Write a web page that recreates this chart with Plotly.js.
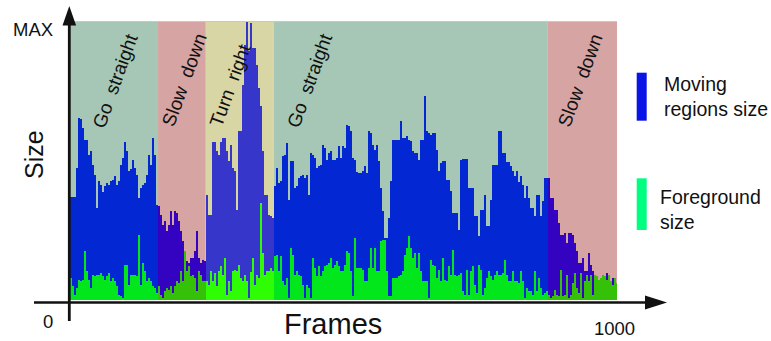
<!DOCTYPE html>
<html><head><meta charset="utf-8">
<script src="https://cdn.plot.ly/plotly-3.0.1.min.js"></script>
<style>html,body{margin:0;padding:0;background:#fff;}#chart{width:771px;height:341px;}</style>
</head><body><div id="chart"></div>
<script>
// ---- data (percent of MAX), one bin per ~3.64 frames ----
const movingRegionsSize = [
37,37,37,37,47.5, 65.5,65,62,57.7,57.7, 52,53.5,48.7,45,33, 42.7,41.5,39,41,42,
41.5,42.7,43,44.5,41.5, 42.7,48.7,51,57,53.5, 46.3,47,50.5,47.5,45, 36.7,40.3,41.5,42,45,
52,48.7,58.3,52,34.3, 33.7,30.7,27,28.3,24.7, 27,31.9,27,31.9,31.3, 28.3,24.7,21.1,17.5,13.9,
13.3,15.1,15.1,17.5,24.7, 15.1,13.3,14.5,13.9,37.9, 30.7,30.7,57,57,53.5, 52.3,57,58.3,58.3,53.5,
49.9,55.9,47.5,46.3,32.5, 60.7,60.7,77.5,91.8,100, 89.4,99.6,90.6,90.6,84.7, 76.3,69.7,53.5,37.9,37.9,
30.7,30.1,29.5,40.9,47.5, 42.1,42.7,51.7,52.3,56.5, 36.1,49.9,49.9,40.3,40.9, 43.9,44.5,45.1,43.9,45.1,
37.9,52.9,52.3,51.1,47.5, 48.1,48.7,55.9,54.7,50.5, 52.9,53.5,50.5,50.5,51.1, 55.3,51.1,55.3,54.7,63.1,
62.5,60.7,51.1,50.5,46, 45.7,45.7,46.3,48.1,45.7, 60.7,60.1,55.9,54.1,55.9, 49.9,40.3,31.9,22.3,22.3,
29.5,42.7,57.7,57.7,57.7, 57.7,64.3,58.3,58.3,58.9, 57.7,57.1,53.5,52.9,52.9, 50.5,57.7,57.7,73.3,60.7,
60.1,59.5,60.1,60.1,54.1, 46.3,49.3,49.9,49.9,43.3, 43.3,39.1,31.3,31.3,31.3, 25.3,50.5,50.7,50.7,50.7,
40.3,40.3,40.3,30.1,30.1, 22.9,32.5,32.5,37.6,26.5, 26.5,36.1,48.7,48.7,48.7, 60.7,60.7,52.9,52.9,49.6,
49.6,48.1,46.3,44.5,46.3, 42.4,44.5,41.5,36.7,40.9, 36.7,33.1,33.1,30.1,37.9, 37.9,30.1,35.5,43.9,43.9,
43.9,36.7,36.7,32.5,32.5, 27.7,23.5,23.5,24.1,20.5, 24.1,24.1,23.5,20.5,17.5, 13.3,13.3,15.1,10.3,10.3,
16.9,12.7,10.3,7.9,7.3, 5.5,6.7,5.5,7.9,9.7, 9.1,6.1,7.9,5.5,5.5
];
const foregroundSize = [
8,7.9,4.9,1.9,4.3, 7.3,6.7,7.3,17.5,10.3, 7.3,4.3,9.1,8.5,9.1, 9.1,9.7,8.5,7.3,8.5,
9.7,6.7,7.9,6.7,4.9, 1.9,1.3,0.7,12.7,12.7, 5.5,9.1,9.1,9.1,8.5, 23.5,5.5,13.3,10.3,6.7,
7.9,6.7,4.9,4.3,2.5, 4.9,1.9,0.7,3.1,4.3, 3.7,4.9,2.5,4.9,6.7, 6.1,10.3,6.7,17.5,10.3,
12.1,8.5,9.1,7.9,3.1, 10.3,9.1,6.7,6.7,6.7, 5.5,10.3,6.7,9.7,4.9, 10.3,12.1,9.1,15.1,1.9,
6.7,3.1,10.3,10.9,10.3, 12.7,7.9,6.7,9.1,6.7, 0.7,10,15.1,5.5,9.1, 7.9,34.9,16.9,9.1,10.3,
10.3,11.5,10.3,15.7,16.3, 10.3,15.7,6.7,5.5,7.9, 0.7,18.7,16.3,9.1,10.3, 9.1,8.5,5.5,0.7,5.5,
4.3,0.7,15.1,11.5,8.5, 12.1,8.5,10.3,12.1,12.7, 13.3,15.1,11.5,12.7,13.9, 12.1,10.3,10.3,12.7,17.5,
16.9,10.3,1.3,22.3,11.5, 11.5,11.5,10.9,6.7,6.7, 11.5,18.7,11.5,18.7,10.3, 10.3,21.1,21.7,21.7,10.3,
1.3,1.3,7.9,7.9,7.9, 8.5,9.1,10.3,16.3,18.7, 22.9,18.7,15.1,16.9,11.5, 16.9,10.3,6.7,6.7,6.7,
0.7,14.5,12.7,12.1,7.9, 10.9,6.7,15.1,7.3,6.7, 12.1,9.1,18.1,9.1,8.5, 9.1,9.7,3.1,1.9,10.9,
1.9,10.3,12.1,5.5,2.5, 12.7,10.9,1.9,4.3,7.9, 10.3,8.5,7.3,9.1,10.3, 9.1,9.1,9.7,14.5,9.1,
6.7,6.7,10.3,6.7,6.7, 6.1,10.3,6.7,0.7,4.3, 3.1,3.1,1.9,10.3,3.1, 7.9,4.3,1.9,2.5,3.1,
1.9,0.7,1.3,3.7,1.9, 1.3,10.9,1.3,1.9,9.1, 0.7,1.9,6.1,9.7,4.3, 2.5,9.7,0.7,6.7,9.1,
6.7,9.1,1.9,9.1,8.5, 7.3,7.9,9.1,8.5,7.3, 9.1,6.7,5.5,7.9,6.1
];
const regionLabels = ['Go  straight','Slow  down','Turn  right','Go  straight','Slow  down'];
const regionStart = [0, 164, 251, 375, 874];
const regionEnd   = [164, 251, 375, 874, 1000];
const regionKind  = ['straight','slow','turn','straight','slow'];
const xTickLabels = ['0', '1000'];
const yTickLabels = ['MAX'];
const legendLabels = ['Moving<br>regions size', 'Foreground<br>size'];

// ---- styling ----
const FRAMES_MAX = 1000, VMAX = 100;
const PL = 68, PR = 617, PT = 22, PB = 300;
const BIN = 2 * FRAMES_MAX / (PR - PL);
const bgCol = {straight:'#a6c7b6', slow:'#d6a4a2', turn:'#d8d6a5'};
const blueCol = {straight:'#0327d3', slow:'#3403c1', turn:'#3636ca'};
const greenCol = {straight:'#02e61c', slow:'#36c109', turn:'#2efd04'};
const FONT = 'Liberation Sans, Arial, sans-serif';
const INK = '#111111';
const labelPos = [[85.6,79.1],[212.6,79.2],[296.4,77.4],[440.8,78.8],[933.2,78.9]];

const px = x => (x - PL) / (PR - PL);
const py = y => (PB - y) / (PB - PT);

const frames = movingRegionsSize.map((_, i) => (i + 0.5) * BIN);
function regionOf(f) {
  for (let k = 0; k < regionStart.length; k++) if (f >= regionStart[k] && f < regionEnd[k]) return k;
  return regionStart.length - 1;
}
const kinds = frames.map(f => regionKind[regionOf(f)]);

const traces = [
  {type:'bar', x:frames, y:movingRegionsSize, width:BIN,
   marker:{color:kinds.map(k => blueCol[k]), line:{width:0}}, hoverinfo:'skip'},
  {type:'bar', x:frames, y:foregroundSize, width:BIN,
   marker:{color:kinds.map(k => greenCol[k]), line:{width:0}}, hoverinfo:'skip'}
];

const shapes = [];
regionStart.forEach((s, k) => {
  shapes.push({type:'rect', xref:'x', yref:'paper', x0:s, x1:regionEnd[k], y0:0, y1:1,
    fillcolor:bgCol[regionKind[k]], line:{width:0}, layer:'below'});
});
// top border
shapes.push({type:'line', xref:'paper', yref:'paper', x0:0, x1:1, y0:py(21.5), y1:py(21.5),
  line:{color:'#c8c8c8', width:1.2}, layer:'above'});
// axes with arrows
shapes.push({type:'line', xref:'paper', yref:'paper', x0:px(34), x1:px(647), y0:py(302.5), y1:py(302.5),
  line:{color:INK, width:2.6}, layer:'above'});
shapes.push({type:'path', xref:'paper', yref:'paper',
  path:`M ${px(645)} ${py(295.5)} L ${px(667)} ${py(302.5)} L ${px(645)} ${py(309.5)} Z`,
  fillcolor:INK, line:{width:0}, layer:'above'});
shapes.push({type:'line', xref:'paper', yref:'paper', x0:px(69.3), x1:px(69.3), y0:py(321), y1:py(24),
  line:{color:INK, width:2.8}, layer:'above'});
shapes.push({type:'path', xref:'paper', yref:'paper',
  path:`M ${px(62.5)} ${py(25.5)} L ${px(69.3)} ${py(6)} L ${px(76.1)} ${py(25.5)} Z`,
  fillcolor:INK, line:{width:0}, layer:'above'});
// legend swatches
shapes.push({type:'rect', xref:'paper', yref:'paper', x0:px(636.7), x1:px(646.7), y0:py(120.7), y1:py(72.7),
  fillcolor:'#0a14e6', line:{width:0}});
shapes.push({type:'rect', xref:'paper', yref:'paper', x0:px(636.7), x1:px(646.7), y0:py(230), y1:py(178.3),
  fillcolor:'#00ff80', line:{width:0}});

const ann = [];
regionLabels.forEach((t, k) => {
  ann.push({x:labelPos[k][0], y:labelPos[k][1], xref:'x', yref:'y', text:t, showarrow:false,
    textangle:-70, xanchor:'center', yanchor:'middle', font:{family:FONT, size:19, color:INK}});
});
const txt = (text, x, y, size, opts) => Object.assign({text, x:px(x), y:py(y), xref:'paper', yref:'paper',
  showarrow:false, xanchor:'center', yanchor:'middle', borderpad:0, font:{family:FONT, size, color:INK}}, opts || {});
ann.push(txt(yTickLabels[0], 54, 29.5, 18.5, {xanchor:'right'}));
ann.push(txt(xTickLabels[0], 47.5, 321, 18.5));
ann.push(txt(xTickLabels[1], 614.7, 328.5, 18.5));
ann.push(txt('Frames', 333, 323.5, 29));
ann.push(txt('Size', 34, 155, 25, {textangle:-90}));
ann.push(txt(legendLabels[0], 663, 96.5, 19.5, {xanchor:'left', align:'left'}));
ann.push(txt(legendLabels[1], 659, 209, 19.5, {xanchor:'left', align:'left'}));

const layout = {
  width:771, height:341, margin:{l:PL, r:771-PR, t:PT, b:341-PB, pad:0},
  paper_bgcolor:'#ffffff', plot_bgcolor:'#ffffff', showlegend:false,
  barmode:'overlay', bargap:0,
  xaxis:{range:[0, FRAMES_MAX], visible:false, fixedrange:true},
  yaxis:{range:[0, VMAX], visible:false, fixedrange:true},
  shapes, annotations:ann
};
Plotly.newPlot('chart', traces, layout, {displayModeBar:false, staticPlot:true});
</script></body></html>
